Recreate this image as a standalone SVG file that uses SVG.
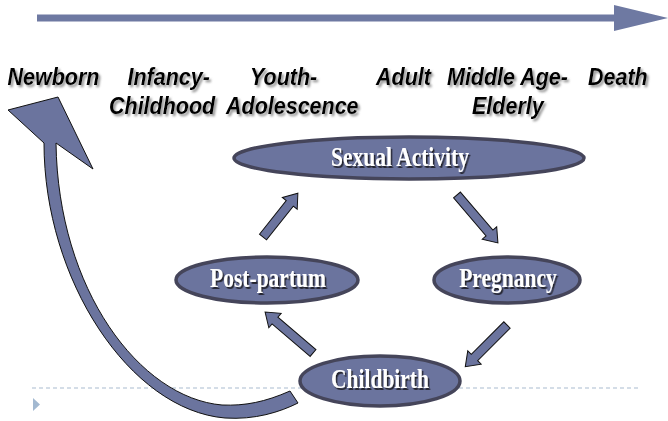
<svg xmlns="http://www.w3.org/2000/svg" width="668" height="421" viewBox="0 0 668 421">
<defs>
<filter id="lshadow" x="-10%" y="-20%" width="130%" height="160%">
<feDropShadow dx="2" dy="2" stdDeviation="0.8" flood-color="#8a8a8a" flood-opacity="0.9"/>
</filter>
<filter id="nshadow" x="-10%" y="-20%" width="130%" height="160%">
<feDropShadow dx="1.5" dy="1.5" stdDeviation="0.2" flood-color="#22222c" flood-opacity="1"/>
</filter>
<style>
.lbl{font-family:"Liberation Sans",Arial,sans-serif;font-weight:bold;font-style:italic;font-size:21.5px;fill:#000;filter:url(#lshadow)}
.node{fill:#6b749e;stroke:#45455a;stroke-width:3.5}
.nt{font-family:"Liberation Serif","Times New Roman",serif;font-weight:bold;font-size:21.5px;fill:#ffffff;text-anchor:middle;filter:url(#nshadow)}
.blk{fill:#6b749e;stroke:#111;stroke-width:1}
</style>
</defs>
<rect width="668" height="421" fill="#ffffff"/>
<g id="timeline">
<polygon points="37,14.5 614,14.5 614,5 668,18 614,31 614,21.5 37,21.5" fill="#6e79a2"/>
</g>
<g id="labels">
<text class="lbl" transform="translate(7.5,84.5) scale(1,1.12)">Newborn</text>
<text class="lbl" transform="translate(127.5,84.5) scale(1,1.12)">Infancy-</text>
<text class="lbl" transform="translate(250,84.5) scale(1,1.12)">Youth-</text>
<text class="lbl" transform="translate(376,84.5) scale(1,1.12)">Adult</text>
<text class="lbl" transform="translate(447,84.5) scale(1,1.12)">Middle Age-</text>
<text class="lbl" transform="translate(588,84.5) scale(1,1.12)">Death</text>
<text class="lbl" transform="translate(109,114) scale(1,1.12)">Childhood</text>
<text class="lbl" transform="translate(226,114) scale(1,1.12)">Adolescence</text>
<text class="lbl" transform="translate(472,114) scale(1,1.12)">Elderly</text>
</g>
<g id="guide">
<line x1="32" y1="388" x2="638" y2="388" stroke="#a9bbd0" stroke-width="1.2" stroke-dasharray="4,3"/>
<polygon points="33,398 40,404.5 33,411" fill="#a3b9d1"/>
</g>
<g id="connectors">
<path class="blk" d="M 8,110 L 58,97 L 93,169 L 56,143 C 58,290 140,398 222,405 C 245,406 265,402 290,391 L 298,403 C 280,412 255,420 225,418 C 130,410 44,280 44,143 Z"/>
<polygon class="blk" transform="translate(263,237) rotate(-51.5)" points="0,-4.5 43,-4.5 43,-9.5 56,0 43,9.5 43,4.5 0,4.5"/>
<polygon class="blk" transform="translate(457,195) rotate(49.5)" points="0,-4.5 50,-4.5 50,-9.5 63,0 50,9.5 50,4.5 0,4.5"/>
<polygon class="blk" transform="translate(507,325) rotate(135)" points="0,-4.5 46,-4.5 46,-9.5 59,0 46,9.5 46,4.5 0,4.5"/>
<polygon class="blk" transform="translate(313,353) rotate(-139.5)" points="0,-4.5 50,-4.5 50,-9.5 63,0 50,9.5 50,4.5 0,4.5"/>
</g>
<g id="sexual-activity">
<ellipse class="node" cx="409" cy="158" rx="175" ry="21"/>
<text class="nt" transform="translate(400,166) scale(1,1.25)">Sexual Activity</text>
</g>
<g id="post-partum">
<ellipse class="node" cx="267" cy="280" rx="91" ry="23"/>
<text class="nt" transform="translate(268,287) scale(1,1.25)">Post-partum</text>
</g>
<g id="pregnancy">
<ellipse class="node" cx="507" cy="280" rx="73" ry="23"/>
<text class="nt" transform="translate(508,287) scale(1,1.25)">Pregnancy</text>
</g>
<g id="childbirth">
<ellipse class="node" cx="380" cy="381" rx="80" ry="25"/>
<text class="nt" transform="translate(380,388) scale(1,1.25)">Childbirth</text>
</g>
</svg>
